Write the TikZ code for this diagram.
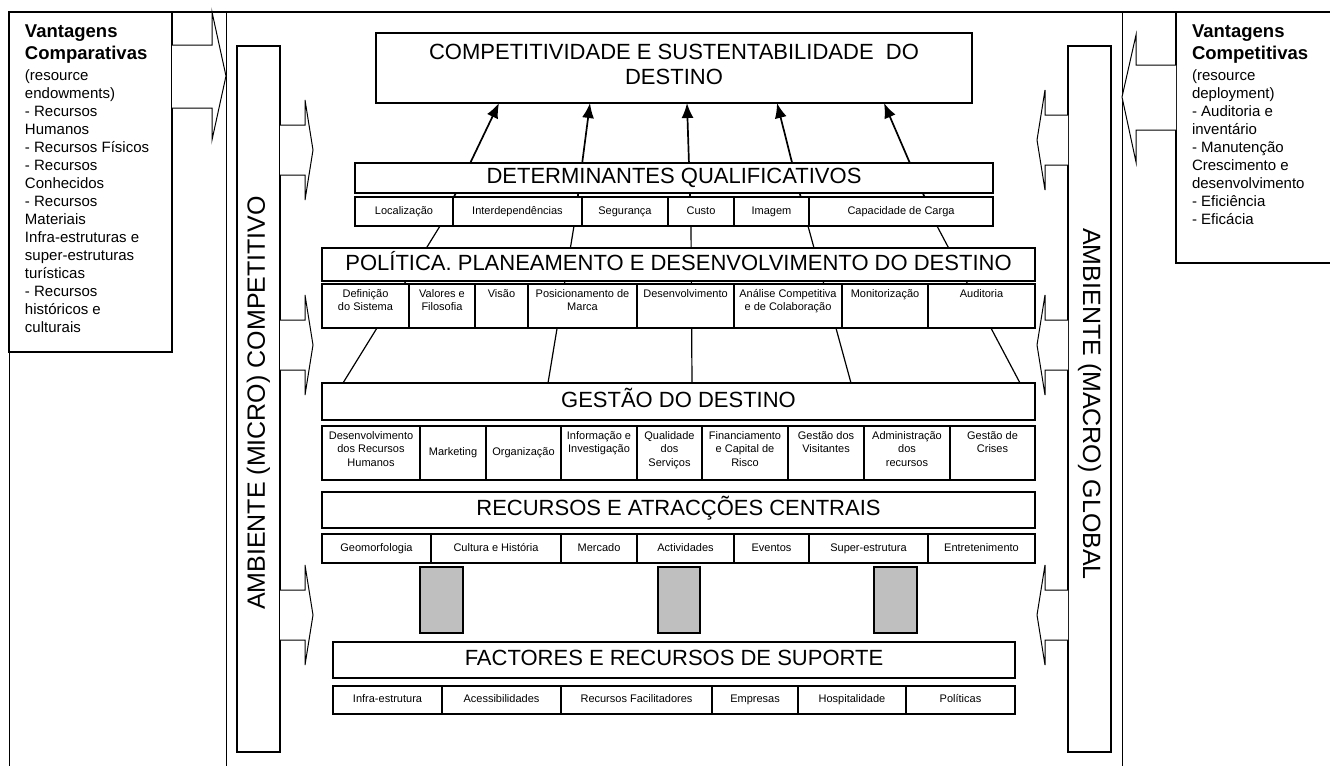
\documentclass[tikz,border=0pt]{standalone}
\usepackage{fontspec}
\setmainfont{Liberation Sans}
\usetikzlibrary{arrows.meta}
\usetikzlibrary{calc}
\tikzset{
    %Define standard arrow tip
    >={Latex[length=15pt,width=12pt]},
    %Define style for boxes
    caixa/.style={
           rectangle,
           draw=black, line width=1.1pt,
           fill=white,
           inner sep=0pt},
    % Define arrow style
    seta/.style={
           ->,
           line width=1.7pt},
    ligacao/.style={
           line width=1.2pt},
    % hollow arrows and frame
    setaoca/.style={
           draw=black, line width=1pt, fill=white},
    moldura/.style={
           line width=1pt},
    bloco/.style={
           draw=black, line width=1.1pt,
           fill=black!25},
}
\newcommand{\titulo}{\fontsize{22}{25}\selectfont}
\newcommand{\rotulo}{\fontsize{25}{29}\selectfont}
\newcommand{\miuda}{\fontsize{11}{13.5}\selectfont}
\newcommand{\cabeca}{\fontsize{18.5}{22}\selectfont\bfseries}
\newcommand{\corpo}{\fontsize{15}{18}\selectfont}

\begin{document}
\begin{tikzpicture}[x=1pt,y=-1pt]
\useasboundingbox (0,0) rectangle (1330,766);
\newcommand{\celula}[7][c]{%
  \pgfmathsetmacro{\lcel}{#4-#3}%
  \pgfmathsetmacro{\hcel}{#6-#5}%
  \node[caixa] (#2) at ({(#3+#4)/2},{(#5+#6)/2})
     {\parbox[c][\hcel pt][#1]{\lcel pt}{\centering\miuda\ifx t#1\vspace*{4pt}\fi\strut #7\strut}};}

% Pontos de ligacao
\coordinate (g1) at (343,383);
\coordinate (g2) at (548,383);
\coordinate (g3) at (692,383);
\coordinate (g4) at (851,383);
\coordinate (g5) at (1020,383);
\coordinate (q1) at (440,226);
\coordinate (q2) at (574,226);
\coordinate (q3) at (691,226);
\coordinate (q4) at (808,226);
\coordinate (q5) at (937,226);
\coordinate (c1) at (499,103);
\coordinate (c2) at (590,103);
\coordinate (c3) at (687,103);
\coordinate (c4) at (777,103);
\coordinate (c5) at (884,103);

% Linhas por tras das caixas
\draw[ligacao] (g1) -- (q1);
\draw[ligacao] (g2) -- (q2);
\draw[ligacao] (g3) -- (q3);
\draw[ligacao] (g4) -- (q4);
\draw[ligacao] (g5) -- (q5);
\draw[seta] (q1) -- (c1);
\draw[seta] (q2) -- (c2);
\draw[seta] (q3) -- (c3);
\draw[seta] (q4) -- (c4);
\draw[seta] (q5) -- (c5);

% Moldura
\draw[line width=1.6pt] (8,12) -- (1330,12);
\draw[moldura] (9,352) -- (9,766);
\draw[moldura] (226,12) -- (226,766);
\draw[moldura] (1122,12) -- (1122,766);

% Caixa da esquerda
\node[caixa] (comparativas) at (90.5,182)
  {\parbox[c][340pt][t]{163pt}{\raggedright\leftskip=16pt\vspace*{13pt}%
   {\cabeca Vantagens\\Comparativas\par}\vspace{3pt}%
   \corpo (resource\\endowments)\\- Recursos\\Humanos\\- Recursos Físicos\\- Recursos\\Conhecidos\\- Recursos\\Materiais\\Infra-estruturas e\\super-estruturas\\turísticas\\- Recursos\\históricos e\\culturais\par}};

% Caixa da direita
\node[caixa] (competitivas) at (1258,137.5)
  {\parbox[c][251pt][t]{164pt}{\raggedright\leftskip=16pt\vspace*{13pt}%
   {\cabeca Vantagens\\Competitivas\par}\vspace{3pt}%
   \corpo (resource\\deployment)\\- Auditoria e\\inventário\\- Manutenção\\Crescimento e\\desenvolvimento\\- Eficiência\\- Eficácia\par}};

% Setas grandes
\path[setaoca] (172,45) -- (212,45) -- (212,12) -- (226,76) -- (212,140) -- (212,108) -- (172,108);
\path[setaoca] (1176,65) -- (1136,65) -- (1136,35) -- (1122,97) -- (1136,162) -- (1136,130) -- (1176,130);

% Ambientes
\node[caixa, rotate=90, minimum width=706pt, minimum height=43pt] (micro) at (258.5,399)
  {\rotulo AMBIENTE (MICRO) COMPETITIVO\hspace*{8pt}};
\node[caixa, rotate=-90, minimum width=706pt, minimum height=43pt] (macro) at (1089.5,399)
  {\rotulo\hspace*{10pt}AMBIENTE (MACRO) GLOBAL};

% Setas pequenas
\path[setaoca] (280,125) -- (305,125) -- (305,100) -- (313,150) -- (305,200) -- (305,175) -- (280,175);
\path[setaoca] (280,320) -- (305,320) -- (305,295) -- (313,345) -- (305,395) -- (305,370) -- (280,370);
\path[setaoca] (280,590) -- (305,590) -- (305,565) -- (313,615) -- (305,665) -- (305,640) -- (280,640);
\path[setaoca] (1068,115) -- (1045,115) -- (1045,90) -- (1037,140) -- (1045,190) -- (1045,165) -- (1068,165);
\path[setaoca] (1068,320) -- (1045,320) -- (1045,295) -- (1037,345) -- (1045,395) -- (1045,370) -- (1068,370);
\path[setaoca] (1068,590) -- (1045,590) -- (1045,565) -- (1037,615) -- (1045,665) -- (1045,640) -- (1068,640);

% Topo
\celula{topo}{376}{972}{33}{103}{\titulo COMPETITIVIDADE E SUSTENTABILIDADE\ \ DO\\DESTINO}

% Determinantes qualificativos
\celula{determ}{355}{993}{163}{193}{\titulo DETERMINANTES QUALIFICATIVOS}
\celula{local}{355}{453}{197}{226}{Localização}
\celula{interd}{453}{582}{197}{226}{Interdependências}
\celula{seguranca}{582}{668}{197}{226}{Segurança}
\celula{custo}{668}{734}{197}{226}{Custo}
\celula{imagem}{734}{809}{197}{226}{Imagem}
\celula{carga}{809}{993}{197}{226}{Capacidade de Carga}

% Politica
\celula{politica}{322}{1035}{248}{281}{\titulo POLÍTICA. PLANEAMENTO E DESENVOLVIMENTO DO DESTINO}
\celula[t]{definicao}{322}{409}{284}{328}{Definição\\do Sistema}
\celula[t]{valores}{409}{475}{284}{328}{Valores e\\Filosofia}
\celula[t]{visao}{475}{528}{284}{328}{Visão}
\celula[t]{posic}{528}{637}{284}{328}{Posicionamento de\\Marca}
\celula[t]{desenv}{637}{734}{284}{328}{Desenvolvimento}
\celula[t]{analise}{734}{842}{284}{328}{Análise Competitiva\\e de Colaboração}
\celula[t]{monit}{842}{928}{284}{328}{Monitorização}
\celula[t]{auditoria}{928}{1035}{284}{328}{Auditoria}

% Gestao
\celula{gestao}{322}{1035}{383}{420}{\titulo GESTÃO DO DESTINO}
\celula[t]{desrh}{322}{420}{426}{480}{Desenvolvimento\\dos Recursos\\Humanos}
\celula{marketing}{420}{486}{426}{480}{Marketing}
\celula{organiz}{486}{561}{426}{480}{Organização}
\celula[t]{informacao}{561}{637}{426}{480}{Informação e\\Investigação}
\celula[t]{qualidade}{637}{702}{426}{480}{Qualidade\\dos\\Serviços}
\celula[t]{financ}{702}{788}{426}{480}{Financiamento\\e Capital de\\Risco}
\celula[t]{visitantes}{788}{864}{426}{480}{Gestão dos\\Visitantes}
\celula[t]{admin}{864}{950}{426}{480}{Administração\\dos\\recursos}
\celula[t]{crises}{950}{1035}{426}{480}{Gestão de\\Crises}

% Recursos centrais
\celula{recursos}{322}{1035}{492}{528}{\titulo RECURSOS E ATRACÇÕES CENTRAIS}
\celula{geomorf}{322}{431}{534}{563}{Geomorfologia}
\celula{cultura}{431}{561}{534}{563}{Cultura e História}
\celula{mercado}{561}{637}{534}{563}{Mercado}
\celula{activ}{637}{734}{534}{563}{Actividades}
\celula{eventos}{734}{809}{534}{563}{Eventos}
\celula{superestr}{809}{928}{534}{563}{Super-estrutura}
\celula{entret}{928}{1035}{534}{563}{Entretenimento}

% Blocos cinzentos
\node[bloco, minimum width=43pt, minimum height=66pt] (bloco1) at (441.5,600) {};
\node[bloco, minimum width=42pt, minimum height=66pt] (bloco2) at (679,600) {};
\node[bloco, minimum width=43pt, minimum height=66pt] (bloco3) at (895.5,600) {};

% Factores de suporte
\celula{factores}{333}{1015}{642}{678}{\titulo FACTORES E RECURSOS DE SUPORTE}
\celula{infra}{333}{442}{686}{714}{Infra-estrutura}
\celula{acess}{442}{561}{686}{714}{Acessibilidades}
\celula{facilit}{561}{712}{686}{714}{Recursos Facilitadores}
\celula{empresas}{712}{798}{686}{714}{Empresas}
\celula{hospit}{798}{906}{686}{714}{Hospitalidade}
\celula{politicas}{906}{1015}{686}{714}{Políticas}
\end{tikzpicture}
\end{document}
